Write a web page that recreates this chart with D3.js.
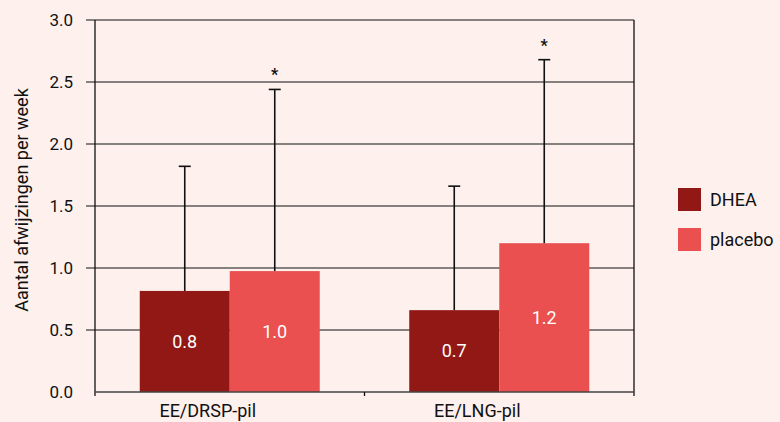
<!DOCTYPE html>
<html>
<head>
<meta charset="utf-8">
<script src="https://cdn.jsdelivr.net/npm/d3@7"></script>
<style>
  body { margin: 0; background: #fdf0ed; }
  svg { display: block; font-family: Roboto, "DejaVu Sans", sans-serif; }
</style>
</head>
<body>
<div id="chart"></div>
<script>
const categories = ["EE/DRSP-pil", "EE/LNG-pil"];
const series = ["DHEA", "placebo"];
const means = { DHEA: [0.815, 0.66], placebo: [0.975, 1.2] };
const upper = { DHEA: [1.82, 1.66], placebo: [2.44, 2.68] };
const valueLabels = { DHEA: ["0.8", "0.7"], placebo: ["1.0", "1.2"] };
const significant = { DHEA: [false, false], placebo: [true, true] };
const yTicks = [0, 0.5, 1.0, 1.5, 2.0, 2.5, 3.0];

const W = 780, H = 422;
const margin = { top: 20, right: 146, bottom: 30, left: 95 };
const width = W - margin.left - margin.right;
const height = H - margin.top - margin.bottom;
const colors = { DHEA: "#921815", placebo: "#e9504f" };

const svg = d3.select("#chart").append("svg")
  .attr("width", W).attr("height", H);
svg.append("rect").attr("width", W).attr("height", H).attr("fill", "#fdf0ed");

const g = svg.append("g").attr("transform", `translate(${margin.left},${margin.top})`);

const x0 = d3.scaleBand().domain(categories).range([0, width]);
const x1 = d3.scaleBand().domain(series).range([0, 180]);
const y = d3.scaleLinear().domain([0, 3]).range([height, 0]);

// gridlines with tick stubs
g.selectAll(".grid").data(yTicks.slice(1)).enter().append("line")
  .attr("x1", -9).attr("x2", width)
  .attr("y1", d => y(d)).attr("y2", d => y(d))
  .attr("stroke", "#111").attr("stroke-width", 1.2);

g.selectAll(".ytick").data(yTicks).enter().append("text")
  .attr("x", -22).attr("y", d => y(d)).attr("dy", "0.35em")
  .attr("text-anchor", "end").attr("font-size", 17).attr("fill", "#111")
  .text(d => d.toFixed(1));

// frame
g.append("line").attr("x1", 0).attr("x2", 0).attr("y1", 0).attr("y2", height + 4)
  .attr("stroke", "#111").attr("stroke-width", 1.3);
g.append("line").attr("x1", width).attr("x2", width).attr("y1", 0).attr("y2", height + 4)
  .attr("stroke", "#111").attr("stroke-width", 1.3);

// bars
const groups = g.selectAll(".grp").data(categories).enter().append("g")
  .attr("transform", c => `translate(${x0(c) + x0.bandwidth() / 2 - 90},0)`);

series.forEach(s => {
  groups.append("rect")
    .attr("x", x1(s)).attr("width", x1.bandwidth())
    .attr("y", (c, i) => y(means[s][i]))
    .attr("height", (c, i) => height - y(means[s][i]))
    .attr("fill", colors[s]);

  const cx = x1(s) + x1.bandwidth() / 2;
  groups.append("line")
    .attr("x1", cx).attr("x2", cx)
    .attr("y1", (c, i) => y(means[s][i]))
    .attr("y2", (c, i) => y(upper[s][i]))
    .attr("stroke", "#111").attr("stroke-width", 1.6);
  groups.append("line")
    .attr("x1", cx - 6).attr("x2", cx + 6)
    .attr("y1", (c, i) => y(upper[s][i]))
    .attr("y2", (c, i) => y(upper[s][i]))
    .attr("stroke", "#111").attr("stroke-width", 1.6);

  groups.append("text")
    .attr("x", cx).attr("y", (c, i) => (y(means[s][i]) + height) / 2)
    .attr("dy", "0.35em").attr("text-anchor", "middle")
    .attr("font-size", 18).attr("fill", "#fff")
    .text((c, i) => valueLabels[s][i]);

  groups.append("text")
    .attr("x", cx).attr("y", (c, i) => y(upper[s][i]) - 9)
    .attr("text-anchor", "middle").attr("font-size", 16).attr("font-weight", "bold").attr("fill", "#111")
    .text((c, i) => significant[s][i] ? "*" : "");
});

// bottom axis line
g.append("line").attr("x1", 0).attr("x2", width).attr("y1", height).attr("y2", height)
  .attr("stroke", "#444").attr("stroke-width", 1.6);
g.append("line").attr("x1", x0.bandwidth()).attr("x2", x0.bandwidth())
  .attr("y1", height).attr("y2", height + 4).attr("stroke", "#111").attr("stroke-width", 1.3);

g.selectAll(".xlab").data(categories).enter().append("text")
  .attr("x", c => x0(c) + x0.bandwidth() / 2 - 22).attr("y", height + 25)
  .attr("text-anchor", "middle").attr("font-size", 18).attr("fill", "#111")
  .text(c => c);

// y axis title
svg.append("text")
  .attr("transform", `translate(28,200) rotate(-90)`)
  .attr("text-anchor", "middle").attr("font-size", 18).attr("fill", "#111")
  .text("Aantal afwijzingen per week");

// legend
const legend = svg.append("g").attr("transform", "translate(678,188)");
series.forEach((s, i) => {
  legend.append("rect").attr("x", 0).attr("y", i * 40).attr("width", 23).attr("height", 23)
    .attr("fill", colors[s]);
  legend.append("text").attr("x", 32).attr("y", i * 40 + 12).attr("dy", "0.35em")
    .attr("font-size", 18).attr("fill", "#111").text(s);
});
</script>
</body>
</html>
